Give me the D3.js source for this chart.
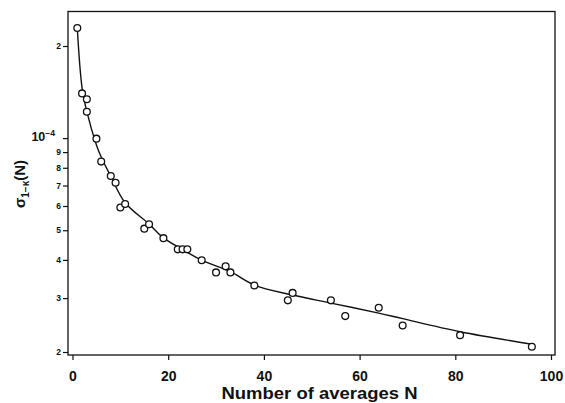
<!DOCTYPE html>
<html>
<head>
<meta charset="utf-8">
<script src="https://cdn.jsdelivr.net/npm/d3@7"></script>
<style>
  body { margin: 0; background: #fff; }
  text { font-family: "Liberation Sans", Arial, Helvetica, sans-serif; font-weight: bold; fill: #111; }
</style>
</head>
<body>
<script>
// measured points (N, sigma)
var pointN = [1, 2, 3, 3, 5, 6, 8, 9, 10, 11, 15, 16, 19, 22, 23, 24, 27, 30, 32, 33, 38, 45, 46, 54, 57, 64, 69, 81, 96];
var pointSigma = [2.29e-4, 1.40e-4, 1.34e-4, 1.22e-4, 9.96e-5, 8.38e-5, 7.52e-5, 7.15e-5, 5.93e-5, 6.09e-5,
                  5.06e-5, 5.23e-5, 4.71e-5, 4.33e-5, 4.33e-5, 4.33e-5, 3.99e-5, 3.64e-5, 3.81e-5, 3.64e-5,
                  3.30e-5, 2.95e-5, 3.12e-5, 2.95e-5, 2.62e-5, 2.79e-5, 2.44e-5, 2.27e-5, 2.08e-5];
// fitted curve
var curveN = [1, 2, 3, 5, 6, 8, 11, 16, 19, 22.5, 27, 33, 38, 46, 54, 64, 69, 81, 96];
var curveSigma = [2.29e-4, 1.46e-4, 1.22e-4, 9.5e-5, 8.67e-5, 7.5e-5, 6.15e-5, 5.24e-5, 4.72e-5,
                  4.37e-5, 3.99e-5, 3.66e-5, 3.31e-5, 3.07e-5, 2.89e-5, 2.68e-5, 2.57e-5, 2.33e-5, 2.12e-5];
// ticks
var xTicks = [0, 20, 40, 60, 80, 100];
var yTicks = [2e-5, 3e-5, 4e-5, 5e-5, 6e-5, 7e-5, 8e-5, 9e-5, 1e-4, 2e-4];
var yTickLabels = ["2", "3", "4", "5", "6", "7", "8", "9", "10", "2"];

var width = 565, height = 403;
var frame = {left: 68, right: 555, top: 11.5, bottom: 355};

var x = d3.scaleLinear().domain([0, 100]).range([72.5, 551]);
var y = d3.scaleLog().domain([2e-5, 2e-4]).range([352, 46]);

var svg = d3.select("body").append("svg")
    .attr("width", width)
    .attr("height", height);

// box
svg.append("rect")
    .attr("x", frame.left).attr("y", frame.top)
    .attr("width", frame.right - frame.left)
    .attr("height", frame.bottom - frame.top)
    .attr("fill", "none")
    .attr("stroke", "#111")
    .attr("stroke-width", 1.3);

// x axis
var xAxis = d3.axisBottom(x)
    .tickValues(xTicks)
    .tickSize(5)
    .tickPadding(11)
    .tickFormat(d3.format("d"));

var gx = svg.append("g")
    .attr("transform", "translate(0," + frame.bottom + ")")
    .call(xAxis);
gx.select(".domain").remove();
gx.selectAll("line").attr("stroke", "#111").attr("stroke-width", 1.2);
gx.selectAll("text").style("font-size", "14px").attr("fill", "#111");

// y axis
var yAxis = d3.axisLeft(y)
    .tickValues(yTicks)
    .tickSize(5)
    .tickPadding(2)
    .tickFormat(function(d, i) { return yTickLabels[i]; });

var gy = svg.append("g")
    .attr("transform", "translate(" + frame.left + ",0)")
    .call(yAxis);
gy.select(".domain").remove();
gy.selectAll("line").attr("stroke", "#111").attr("stroke-width", 1.2);
gy.selectAll("text").style("font-size", "8.5px").attr("fill", "#111");

// the 10^-4 label
gy.selectAll("text").filter(function(d) { return d === 1e-4; })
    .text(null)
    .attr("x", -13)
    .call(function(t) {
      t.append("tspan").style("font-size", "12.5px").text("10");
      t.append("tspan").style("font-size", "8.5px").attr("dy", "-5").text("\u22124");
    });

// fitted curve
var line = d3.line()
    .x(function(d) { return x(d[0]); })
    .y(function(d) { return y(d[1]); })
    .curve(d3.curveCatmullRom.alpha(0.5));

svg.append("path")
    .datum(curveN.map(function(n, i) { return [n, curveSigma[i]]; }))
    .attr("d", line)
    .attr("fill", "none")
    .attr("stroke", "#111")
    .attr("stroke-width", 1.4);

// points
svg.selectAll(".pt")
    .data(pointN.map(function(n, i) { return [n, pointSigma[i]]; }))
    .enter().append("circle")
    .attr("class", "pt")
    .attr("cx", function(d) { return x(d[0]); })
    .attr("cy", function(d) { return y(d[1]); })
    .attr("r", 3.4)
    .attr("fill", "#fff")
    .attr("stroke", "#111")
    .attr("stroke-width", 1.3);

// axis titles
svg.append("text")
    .attr("x", (frame.left + frame.right) / 2 + 8)
    .attr("y", 399)
    .attr("text-anchor", "middle")
    .attr("textLength", 196)
    .attr("lengthAdjust", "spacingAndGlyphs")
    .style("font-size", "16.5px")
    .text("Number of averages N");

var ylab = svg.append("text")
    .attr("transform", "translate(25,184) rotate(-90)")
    .attr("text-anchor", "middle")
    .style("font-size", "15px");
ylab.append("tspan").text("\u03c3");
ylab.append("tspan").attr("dy", 4).style("font-size", "10px").text("1\u2212\u03ba");
ylab.append("tspan").attr("dy", -4).text("(N)");
</script>
</body>
</html>
